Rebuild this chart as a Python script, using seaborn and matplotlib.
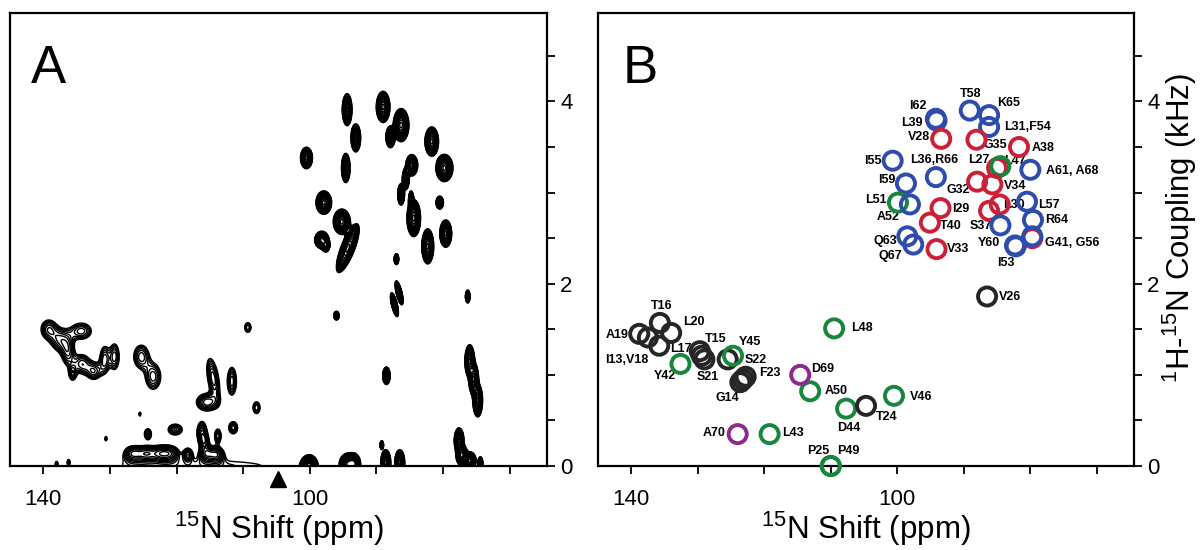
import numpy as np
import pandas as pd
import matplotlib
matplotlib.use("Agg")
import matplotlib.pyplot as plt
from matplotlib.ticker import MultipleLocator, FixedLocator
import seaborn as sns

# ---------------- Panel A: peaks ----------------
# centre shift (ppm), centre coupling (kHz), width ppm, width kHz, height, tilt (kHz/ppm)
A_SHIFT = [100.5, 94.4, 93.1, 89.0, 86.3, 87.9, 81.7, 79.8, 94.6, 84.7,
           85.6, 86.3, 80.5, 97.9, 95.2, 84.4, 84.8, 79.6, 98.2, 97.6,
           94.3, 82.3, 87.0, 86.6, 87.3, 76.3, 96.0, 88.5, 76.0, 75.4,
           74.8, 100.1, 94.3, 93.4, 88.6, 86.5, 89.2, 77.6, 77.2, 76.0,
           74.4,
           139.2, 137.5, 136.3, 134.3, 134.2, 132.4, 135.6, 130.8, 129.3, 125.3,
           123.5, 114.5, 115.4, 111.7, 109.3, 108.0, 111.5, 113.8, 116.2, 115.8,
           120.2, 124.3, 126.5, 124.5, 122.5, 121.0, 118.3, 115.5, 114.0, 125.5,
           130.6, 117.3, 138.0, 136.2]
A_COUPLING = [3.38, 3.91, 3.60, 3.94, 3.74, 3.61, 3.56, 3.27, 3.27, 3.30,
              3.15, 2.98, 2.89, 2.89, 2.68, 2.72, 2.92, 2.55, 2.48, 2.42,
              2.39, 2.41, 2.27, 1.90, 1.77, 1.86, 1.65, 0.99, 1.15, 0.95,
              0.72, 0.0, 0.02, 0.02, 0.04, 0.04, 0.23, 0.28, 0.12, 0.06,
              0.03,
              1.50, 1.38, 1.25, 1.48, 1.12, 1.04, 1.02, 1.17, 1.20, 1.20,
              0.98, 0.96, 0.70, 0.93, 1.52, 0.64, 0.42, 0.33, 0.37, 0.27,
              0.40, 0.35, 0.14, 0.14, 0.14, 0.14, 0.13, 0.14, 0.13, 0.57,
              0.30, 0.0, 0.02, 0.04]
A_WIDTH_PPM = [0.42, 0.34, 0.34, 0.48, 0.55, 0.32, 0.48, 0.6, 0.3, 0.42,
               0.24, 0.24, 0.26, 0.55, 0.6, 0.48, 0.17, 0.42, 0.5, 0.28,
               0.8, 0.42, 0.16, 0.28, 0.28, 0.16, 0.19, 0.26, 0.34, 0.34,
               0.34, 0.55, 0.55, 0.45, 0.34, 0.34, 0.12, 0.34, 0.4, 0.45,
               0.17,
               0.9, 1.0, 0.7, 1.2, 0.9, 0.8, 0.4, 0.55, 0.55, 0.9,
               0.9, 0.65, 1.1, 0.5, 0.4, 0.45, 0.45, 0.35, 0.5, 0.45,
               0.8, 0.4, 0.9, 0.9, 0.9, 0.9, 0.45, 0.7, 0.7, 0.14,
               0.14, 15.0, 0.14, 0.14]
A_WIDTH_KHZ = [0.055, 0.082, 0.072, 0.08, 0.085, 0.055, 0.075, 0.07, 0.075, 0.055,
               0.055, 0.055, 0.033, 0.06, 0.065, 0.095, 0.045, 0.07, 0.045, 0.033,
               0.08, 0.09, 0.028, 0.045, 0.045, 0.033, 0.022, 0.045, 0.085, 0.085,
               0.085, 0.055, 0.055, 0.055, 0.065, 0.065, 0.022, 0.065, 0.055, 0.045,
               0.033,
               0.08, 0.09, 0.11, 0.07, 0.08, 0.07, 0.06, 0.11, 0.11, 0.1,
               0.11, 0.13, 0.065, 0.11, 0.045, 0.055, 0.045, 0.055, 0.08, 0.055,
               0.045, 0.045, 0.055, 0.055, 0.055, 0.055, 0.045, 0.055, 0.055, 0.022,
               0.022, 0.09, 0.022, 0.022]
A_HEIGHT = [1.0] * 41 + [0.22] * 11 + [0.3, 0.3, 0.26, 0.2, 0.2, 0.3, 0.26,
                                        0.3, 0.26, 0.24, 0.24, 0.28, 0.28, 0.28, 0.28,
                                        0.26, 0.3, 0.3, 0.16, 0.18, 0.125, 0.16, 0.16]
A_TILT = [0.0] * 20 + [-0.12] + [0.0] * 2 + [0.15, 0.15] + [0.0] * 52
A_TILT[52] = 0.11
ARROW_PPM = 104.7

# ---------------- Panel B: assigned residues ----------------
RESIDUES = ["T16", "A19", "I13,V18", "", "L20", "T15", "L17", "S21", "Y42", "S22",
            "Y45", "F23", "", "G14", "L48", "A50", "D69", "D44", "T24", "V46",
            "A70", "L43", "P25", "P49", "V26",
            "I62", "L39", "T58", "K65", "L31,F54", "V28", "G35", "A38", "I55", "L36,R66",
            "L27", "L47", "A61, A68", "G32", "V34", "I59", "L51", "A52", "I29", "T40",
            "", "L30", "L57", "R64", "S37", "", "G41, G56", "Y60", "I53", "Q63",
            "Q67", "V33"]
SHIFT = [135.7, 138.8, 137.5, 135.8, 134.0, 129.7, 129.4, 129.0, 132.6, 125.5,
         124.7, 122.8, 123.2, 123.6, 109.5, 113.1, 114.6, 107.7, 104.7, 100.5,
         124.0, 119.2, 110.0, 110.0, 86.5,
         94.2, 94.1, 89.1, 86.2, 86.2, 93.4, 88.1, 81.7, 100.7, 94.2,
         85.0, 84.5, 80.0, 88.0, 85.7, 98.7, 99.9, 98.1, 93.5, 95.1,
         86.2, 84.6, 80.5, 79.6, 84.5, 79.7, 79.7, 82.3, 82.2, 98.5,
         97.6, 94.1]
COUPLING = [1.57, 1.45, 1.41, 1.32, 1.46, 1.26, 1.21, 1.17, 1.12, 1.17,
            1.21, 0.98, 0.95, 0.92, 1.51, 0.82, 1.00, 0.63, 0.66, 0.77,
            0.35, 0.35, 0.0, 0.0, 1.86,
            3.81, 3.79, 3.90, 3.85, 3.72, 3.59, 3.58, 3.50, 3.35, 3.17,
            3.27, 3.29, 3.25, 3.12, 3.09, 3.10, 2.89, 2.87, 2.83, 2.67,
            2.80, 2.87, 2.90, 2.70, 2.64, 2.50, 2.52, 2.42, 2.41, 2.52,
            2.43, 2.38]
GROUP = ["k", "k", "k", "k", "k", "k", "k", "k", "g", "k",
         "g", "k", "k", "k", "g", "g", "p", "g", "k", "g",
         "p", "g", "g", "g", "k",
         "b", "b", "b", "b", "b", "r", "r", "r", "b", "b",
         "r", "g", "b", "r", "r", "b", "g", "b", "r", "r",
         "r", "r", "b", "b", "b", "r", "b", "b", "b", "b",
         "b", "r"]
PALETTE = {"k": "#262626", "g": "#16873c", "p": "#8c2a8e", "b": "#2e4cae", "r": "#cc1f38"}

# label offsets from the circle centre (pixels)
LABEL_OFFSETS = [(2, 17), (-22, -1), (-21, -22), (0, 0), (23, 11), (16, 12), (-21, 7), (3, -18),
                 (-16, -12), (28, -1), (17, 14), (24, 4), (0, 0), (-13, -16), (28, 0), (26, 0),
                 (22, 6), (3, -19), (21, -11), (27, -1), (-24, 1), (23, 1), (-13, 15), (18, 15),
                 (23, -1),
                 (-18, 13), (-25, -2), (1, 17), (20, 12), (38, 0), (-22, 2), (19, -5), (24, -1),
                 (-20, 0), (-2, 17), (-18, 8), (15, 5), (42, -1), (-19, -8), (23, -2), (-19, 3),
                 (-22, 3), (-22, -13), (20, -1), (21, -3), (0, 0), (14, -1), (22, -3), (24, 0),
                 (-20, -1), (0, 0), (40, -7), (-26, 2), (-10, -17), (-22, -5), (-23, -11), (22, 0)]

XLIM = (145.0, 64.4)
YLIM = (0.0, 4.97)

sns.set_style("ticks")
plt.rcParams["font.family"] = ["Liberation Sans", "DejaVu Sans"]
plt.rcParams["text.color"] = "black"
plt.rcParams["axes.labelcolor"] = "black"
plt.rcParams["xtick.color"] = "black"
plt.rcParams["ytick.color"] = "black"
plt.rcParams["mathtext.fontset"] = "custom"
plt.rcParams["mathtext.rm"] = "Liberation Sans"
plt.rcParams["mathtext.it"] = "Liberation Sans:italic"
plt.rcParams["mathtext.bf"] = "Liberation Sans:bold"

fig = plt.figure(figsize=(12.03, 5.5), dpi=100)
axA = fig.add_axes([0.0083, 0.1527, 0.4464, 0.8236])
axB = fig.add_axes([0.4971, 0.1527, 0.4456, 0.8236])


def style_axes(ax):
    ax.set_xlim(*XLIM)
    ax.set_ylim(*YLIM)
    for sp in ax.spines.values():
        sp.set_visible(True)
        sp.set_linewidth(1.6)
        sp.set_color("black")
    ax.yaxis.tick_right()
    ax.xaxis.set_major_locator(FixedLocator([140, 100]))
    ax.xaxis.set_minor_locator(MultipleLocator(10))
    ax.yaxis.set_major_locator(FixedLocator([0, 2, 4]))
    ax.yaxis.set_minor_locator(MultipleLocator(0.5))
    ax.set_yticklabels(["0", "2", "4"])
    ax.set_xticklabels(["140", "100"])
    ax.tick_params(which="both", direction="out", length=5.5, width=1.3, color="black",
                   labelcolor="black", labelsize=16, right=True, left=False, top=False,
                   bottom=True)
    ax.tick_params(axis="x", which="both", pad=11)
    ax.tick_params(axis="y", which="both", pad=4)
    ax.set_xlabel(r"$\mathregular{^{15}}$N Shift (ppm)", fontsize=22.5, labelpad=0)
    ax.set_ylabel("")


# ---- Panel A: contour spectrum ----
gx = np.arange(63.0, 147.0, 0.08)
gy = np.arange(-0.3, 5.1, 0.008)
X, Y = np.meshgrid(gx, gy)
Z = np.zeros_like(X)
for x0, y0, sx, sy, a, t in zip(A_SHIFT, A_COUPLING, A_WIDTH_PPM, A_WIDTH_KHZ, A_HEIGHT, A_TILT):
    dx = X - x0
    dy = Y - y0 - t * dx
    Z += a * np.exp(-0.5 * (dx / sx) ** 2 - 0.5 * (dy / sy) ** 2)

levels = 0.1 * 1.15 ** np.arange(0, 18)
axA.contour(X, Y, Z, levels=levels, colors="black", linewidths=1.0)
style_axes(axA)
axA.plot([ARROW_PPM], [-0.14], marker="^", color="black", markersize=11, clip_on=False)
axA.text(0.039, 0.845, "A", transform=axA.transAxes, fontsize=38, color="black")

# ---- Panel B: assigned peaks ----
df = pd.DataFrame({"residue": RESIDUES, "shift": SHIFT, "coupling": COUPLING, "group": GROUP})
sns.scatterplot(data=df, x="shift", y="coupling", hue="group", palette=PALETTE,
                s=170, linewidth=2.8, legend=False, ax=axB, zorder=3, clip_on=False)
pts = axB.collections[-1]
pts.set_edgecolors(pts.get_facecolors())
pts.set_facecolors("none")

for (res, x, y), (dx, dy) in zip(df[["residue", "shift", "coupling"]].values, LABEL_OFFSETS):
    if not res:
        continue
    axB.annotate(res, (x, y), xytext=(dx, dy), textcoords="offset pixels",
                 ha="center", va="center", fontsize=9, fontweight="bold", zorder=2,
                 color="black")

style_axes(axB)
axB.yaxis.set_label_position("right")
axB.set_ylabel(r"$\mathregular{^{1}}$H-$\mathregular{^{15}}$N Coupling (kHz)", fontsize=22.5,
               rotation=90, labelpad=1)
axB.yaxis.label.set_y(0.525)
axB.text(0.045, 0.845, "B", transform=axB.transAxes, fontsize=38, color="black")

fig.savefig("out.png", dpi=100)
